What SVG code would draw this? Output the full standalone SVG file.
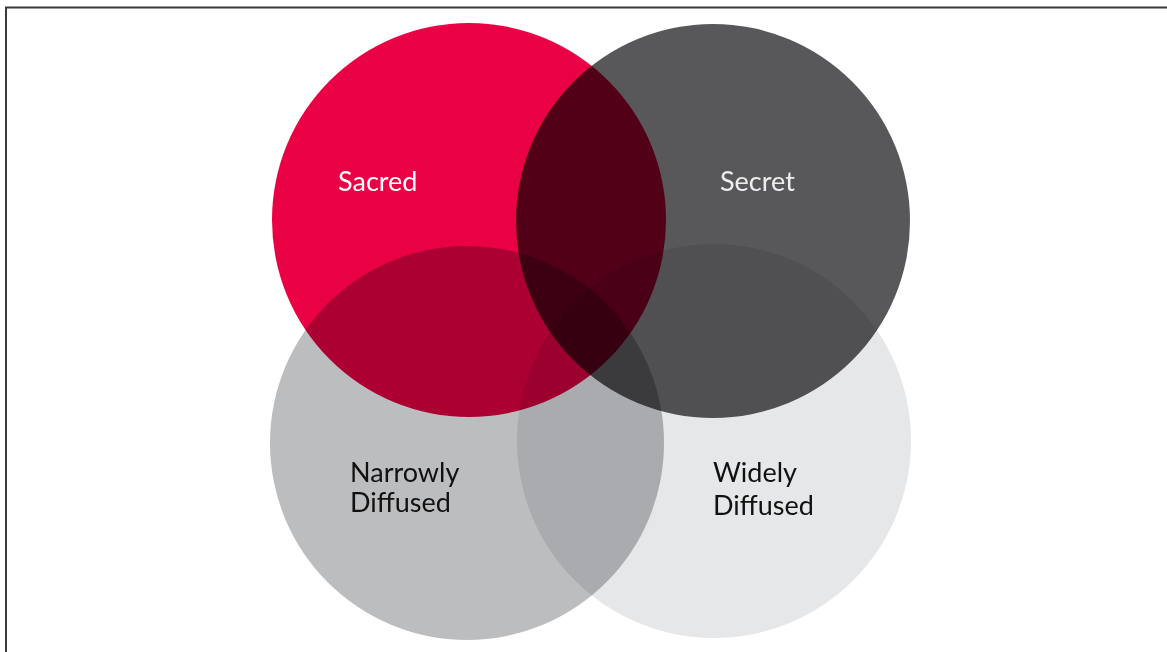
<svg xmlns="http://www.w3.org/2000/svg" width="1167" height="652" viewBox="0 0 1167 652">
<style>
.c{mix-blend-mode:multiply}
.t{font-family:Lato,"Liberation Sans",sans-serif;font-size:27px}
</style>
<rect x="0" y="0" width="1167" height="652" fill="#ffffff"/>
<rect x="6" y="7.5" width="1200" height="700" fill="none" stroke="#3a3a3a" stroke-width="2"/>
<g id="narrowly">
<circle class="c" cx="467" cy="443" r="197" fill="#BCBDBF"/>
</g>
<g id="widely">
<circle class="c" cx="714" cy="441" r="197" fill="#E6E7E8"/>
</g>
<g id="sacred">
<circle class="c" cx="469" cy="220" r="197" fill="#EA0044"/>
</g>
<g id="secret">
<circle class="c" cx="713" cy="221" r="197" fill="#58585A"/>
</g>
<g id="labels">
<text class="t" x="338" y="191" fill="#ffffff">Sacred</text>
<text class="t" x="720" y="191" fill="#eeeeee">Secret</text>
<text class="t" x="350" y="482" fill="#111111">Narrowly</text>
<text class="t" x="350" y="512" fill="#111111">Diffused</text>
<text class="t" x="713" y="482" fill="#111111">Widely</text>
<text class="t" x="713" y="515" fill="#111111">Diffused</text>
</g>
<g id="connectors"/>
</svg>
